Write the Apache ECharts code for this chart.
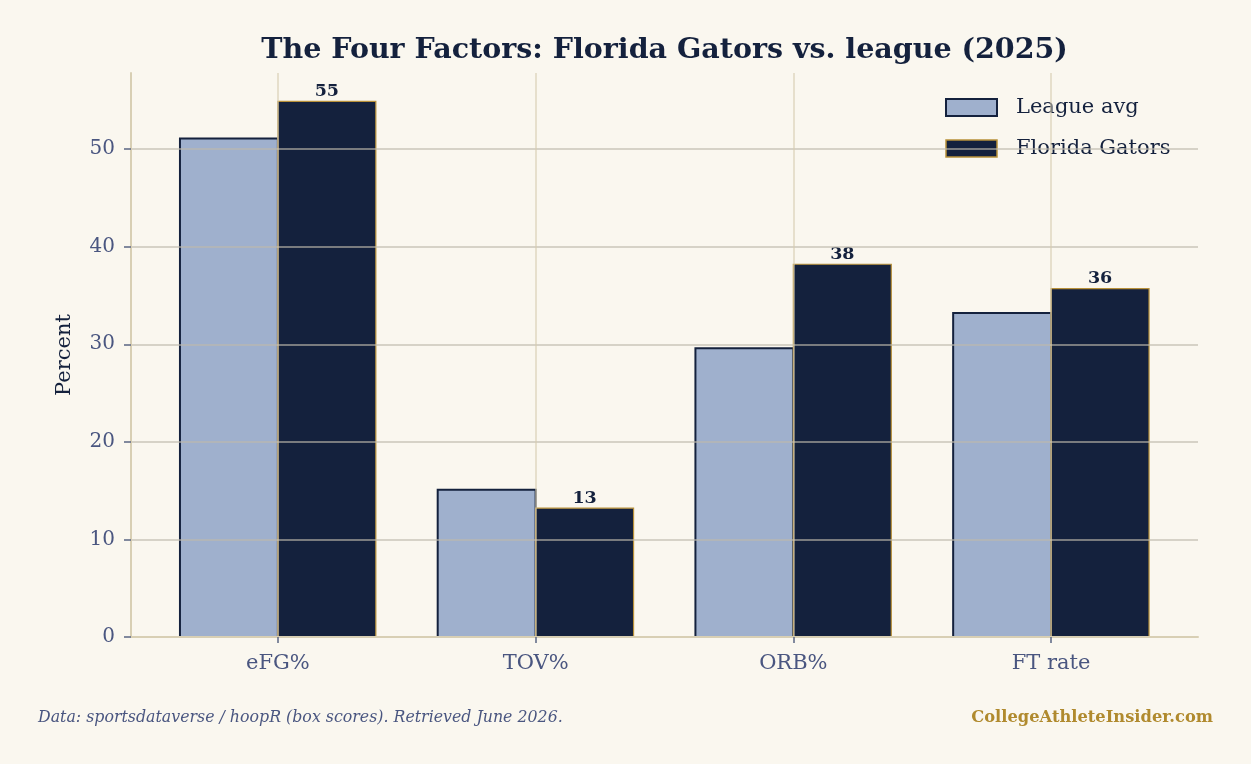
<!DOCTYPE html>
<html><head><meta charset="utf-8">
<script src="https://cdn.jsdelivr.net/npm/echarts@6/dist/echarts.min.js"></script>
<style>html,body{margin:0;padding:0;background:#faf7ef;}#c{width:1251px;height:764px;}</style>
</head><body><div id="c"></div>
<script>
// ---- data ----
const categories = ['eFG%', 'TOV%', 'ORB%', 'FT rate'];
const leagueAvg = [51.1, 15.1, 29.6, 33.2];
const florida = [54.9, 13.2, 38.2, 35.7];
const yTicks = [0, 10, 20, 30, 40, 50];
const seriesNames = ['League avg', 'Florida Gators'];
const titleText = 'The Four Factors: Florida Gators vs. league (2025)';
const yAxisTitle = 'Percent';
const footnote = 'Data: sportsdataverse / hoopR (box scores). Retrieved June 2026.';
const credit = 'CollegeAthleteInsider.com';

// ---- style ----
const SERIF = '"DejaVu Serif", "Liberation Serif", serif';
const NAVY = '#14213d';
const LIGHT = '#9fb0cd';
const GOLD = '#b8913a';
const SLATE = '#4a5680';
const BAR_W = 0.38;

const chart = echarts.init(document.getElementById('c'), null, {renderer: 'canvas'});

function barSeries(name, values, offset, fill, stroke, lw, withLabel) {
  return {
    type: 'custom',
    name: name,
    z: 2,
    data: values.map((v, i) => [i, v]),
    renderItem: function (params, api) {
      const ci = api.value(0), v = api.value(1);
      const p0 = api.coord([ci + offset, 0]);
      const p1 = api.coord([ci + offset + BAR_W, v]);
      const children = [{
        type: 'rect',
        shape: {x: p0[0], y: p1[1], width: p1[0] - p0[0], height: p0[1] - p1[1]},
        style: {fill: fill, stroke: stroke, lineWidth: lw}
      }];
      if (withLabel) {
        children.push({
          type: 'text',
          style: {
            text: String(Math.round(v)),
            x: (p0[0] + p1[0]) / 2, y: p1[1] - 1,
            textAlign: 'center', align: 'center',
            textVerticalAlign: 'bottom', verticalAlign: 'bottom',
            font: 'bold 17.5px ' + SERIF, fill: NAVY
          }
        });
      }
      return {type: 'group', children: children};
    }
  };
}

const option = {
  backgroundColor: '#faf7ef',
  animation: false,
  grid: {left: 131, right: 53, top: 73, bottom: 127, containLabel: false},
  legend: {
    orient: 'vertical', left: 945, top: 97, padding: 0,
    itemWidth: 51, itemHeight: 17, itemGap: 20,
    textStyle: {fontFamily: SERIF, fontSize: 21, color: NAVY, padding: [0, 0, 0, 14]},
    data: [
      {name: seriesNames[0], icon: 'rect', itemStyle: {color: LIGHT, borderColor: NAVY, borderWidth: 2}},
      {name: seriesNames[1], icon: 'rect', itemStyle: {color: NAVY, borderColor: GOLD, borderWidth: 1.5}}
    ]
  },
  xAxis: {
    type: 'value', min: -0.57, max: 3.57, z: 5,
    axisLine: {show: true, onZero: false, lineStyle: {color: '#d8cfb4', width: 2}},
    axisTick: {show: true, customValues: [0, 1, 2, 3], length: 6, lineStyle: {color: '#5a6584', width: 1.5}},
    axisLabel: {
      customValues: [0, 1, 2, 3], margin: 16,
      formatter: v => categories[Math.round(v)],
      fontFamily: SERIF, fontSize: 21, color: SLATE
    },
    splitLine: {show: true, lineStyle: {color: 'rgba(214,204,176,0.75)', width: 1.5}}
  },
  yAxis: {
    type: 'value', min: 0, max: 57.8, z: 5,
    name: yAxisTitle, nameLocation: 'middle', nameGap: 56, nameRotate: 90,
    nameTextStyle: {fontFamily: SERIF, fontSize: 21, color: NAVY},
    axisLine: {show: true, onZero: false, lineStyle: {color: '#d8cfb4', width: 2}},
    axisTick: {show: true, customValues: yTicks, length: 7, lineStyle: {color: '#5a6584', width: 1.5}},
    axisLabel: {customValues: yTicks, margin: 16, fontFamily: SERIF, fontSize: 20, color: SLATE},
    splitLine: {show: true, lineStyle: {color: 'rgba(190,186,172,0.8)', width: 1.5}}
  },
  series: [
    barSeries(seriesNames[0], leagueAvg, -BAR_W, LIGHT, NAVY, 2, false),
    barSeries(seriesNames[1], florida, 0, NAVY, GOLD, 1.2, true)
  ],
  graphic: [
    {type: 'text', x: 664.5, y: 51, style: {text: titleText, font: 'bold 28.5px ' + SERIF, fill: NAVY, textAlign: 'center', align: 'center', textVerticalAlign: 'middle', verticalAlign: 'middle'}},
    {type: 'text', x: 38, y: 718, style: {text: footnote, font: 'italic 15.8px ' + SERIF, fill: SLATE, textAlign: 'left', align: 'left', textVerticalAlign: 'middle', verticalAlign: 'middle'}},
    {type: 'text', x: 1213, y: 718, style: {text: credit, font: 'bold 16.3px ' + SERIF, fill: '#b08a2e', textAlign: 'right', align: 'right', textVerticalAlign: 'middle', verticalAlign: 'middle'}}
  ]
};
chart.setOption(option);
</script></body></html>
